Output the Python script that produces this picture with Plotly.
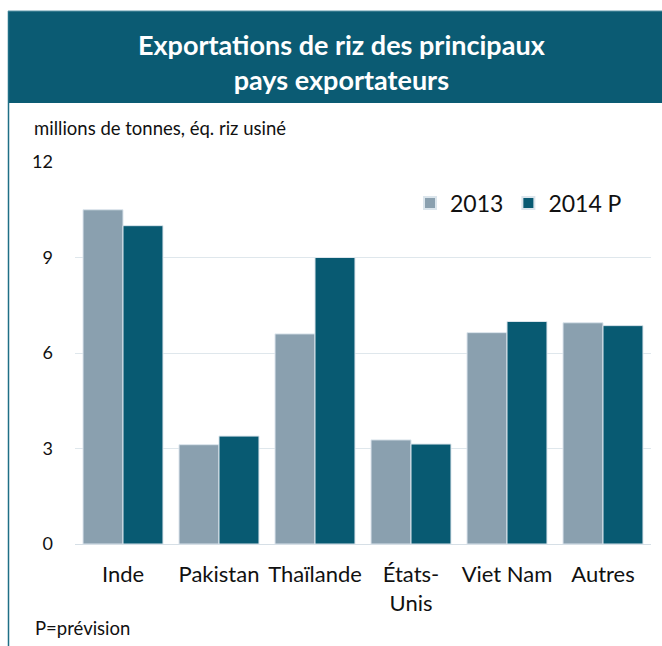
import plotly.graph_objects as go

categories = ["Inde", "Pakistan", "Thaïlande", "États-<br>Unis", "Viet Nam", "Autres"]
values_2013 = [10.5, 3.12, 6.6, 3.27, 6.64, 6.95]
values_2014 = [10.0, 3.39, 9.0, 3.14, 6.99, 6.86]
series_names = ["2013", "2014 P"]
y_ticks = [0, 3, 6, 9, 12]

W, H = 662, 646
L, R, T, B = 75, 11, 162, 102
PW, PH = W - L - R, H - T - B

def px(x):
    return (x - L) / PW

def py(y):
    return (H - B - y) / PH

FONT = "Lato"
c2013 = "#8AA0AF"
c2014 = "#085A72"

fig = go.Figure()
fig.add_trace(go.Bar(x=categories, y=values_2013, name=series_names[0],
                     marker=dict(color=c2013, line=dict(color="#dbe5ec", width=1))))
fig.add_trace(go.Bar(x=categories, y=values_2014, name=series_names[1],
                     marker=dict(color=c2014, line=dict(color="#dbe5ec", width=1))))

fig.update_layout(
    width=W, height=H,
    margin=dict(l=L, r=R, t=T, b=B, autoexpand=False),
    paper_bgcolor="white", plot_bgcolor="white",
    barmode="group", bargap=0.167, bargroupgap=0,
    font=dict(family=FONT, color="#111111"),
    legend=dict(orientation="h", x=px(410), y=py(203), xanchor="left", yanchor="middle",
                font=dict(size=23, family=FONT), itemsizing="constant",
                bgcolor="rgba(0,0,0,0)", traceorder="normal"),
    xaxis=dict(showgrid=False, showline=True, linecolor="#d6dfe6", linewidth=1,
               tickfont=dict(size=22, family=FONT), ticks="", ticklabelstandoff=11),
    yaxis=dict(range=[0, 12], tickvals=y_ticks, showgrid=True, gridcolor="#dfe7ec",
               gridwidth=1, zeroline=False, showline=False, ticks="",
               tickfont=dict(size=18, family=FONT), ticklabelstandoff=21),
    showlegend=True,
)

shapes = [
    dict(type="rect", xref="paper", yref="paper", x0=px(8), x1=px(662), y0=py(103), y1=py(11),
         fillcolor="#0B5B73", line=dict(width=0), layer="above"),
    dict(type="line", xref="paper", yref="paper", x0=px(8.5), x1=px(8.5), y0=py(646), y1=py(11),
         line=dict(color="#1f6f86", width=1.5)),
    dict(type="line", xref="paper", yref="paper", x0=px(8), x1=px(662), y0=py(11), y1=py(11),
         line=dict(color="#5d96a8", width=1)),
]
fig.update_layout(shapes=shapes)

fig.add_annotation(xref="paper", yref="paper", x=px(342), y=py(62), xanchor="center", yanchor="middle",
                   text="<b>Exportations de riz des principaux<br>pays exportateurs</b>",
                   showarrow=False, font=dict(size=27, color="white", family=FONT), align="center")
fig.add_annotation(xref="paper", yref="paper", x=px(32), y=py(128), xanchor="left", yanchor="middle",
                   text="millions de tonnes, éq. riz usiné", showarrow=False,
                   font=dict(size=18.5, family=FONT, color="#111111"))
fig.add_annotation(xref="paper", yref="paper", x=px(33), y=py(628), xanchor="left", yanchor="middle",
                   text="P=prévision", showarrow=False,
                   font=dict(size=18.5, family=FONT, color="#111111"))

fig.write_html("out.html", config={"displayModeBar": False},
               post_script="document.body.style.margin='0';document.body.style.padding='0';")
